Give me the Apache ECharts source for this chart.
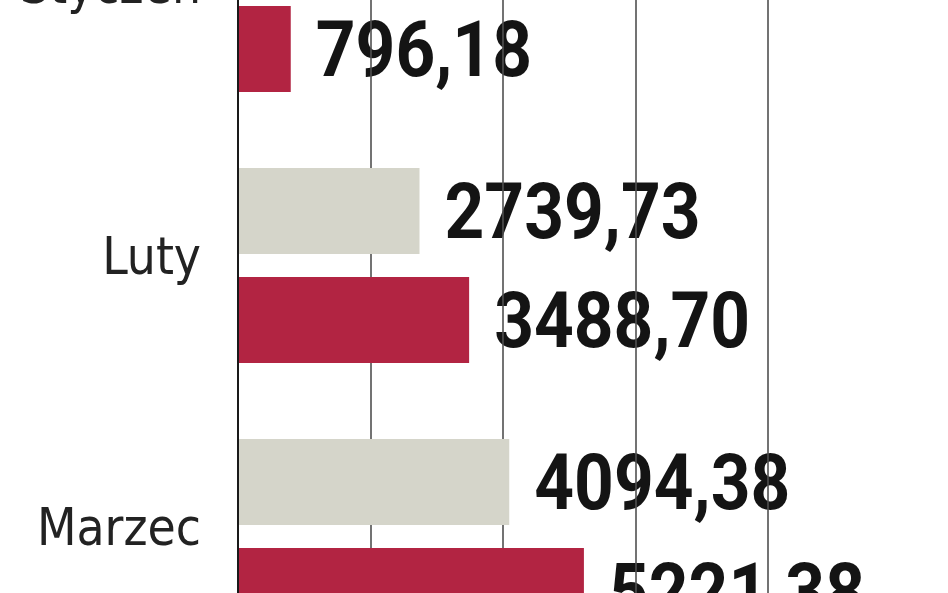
<!DOCTYPE html>
<html>
<head>
<meta charset="utf-8">
<script src="https://cdn.jsdelivr.net/npm/echarts@6/dist/echarts.min.js"></script>
<style>
html,body{margin:0;padding:0;background:#fff;overflow:hidden;width:948px;height:593px;}
#c{position:absolute;left:0;top:-141px;width:948px;height:813px;}
</style>
</head>
<body>
<div id="c"></div>
<script>
var categories = ['Styczeń', 'Luty', 'Marzec'];
var grayValues = [1300.00, 2739.73, 4094.38];
var redValues = [796.18, 3488.70, 5221.38];
var xTicks = [0, 2000, 4000, 6000, 8000];

var chart = echarts.init(document.getElementById('c'));
var VFONT = 'bold 78px Roboto, "DejaVu Sans Condensed", sans-serif';
var CFONT = '"DejaVu Sans Condensed", Roboto, sans-serif';
var BAR_W = 86, GAP = 23;

function fmt(v) { return v.toFixed(2).replace('.', ','); }

function barSeries(name, data, color) {
  return {
    name: name, type: 'bar', data: data,
    barWidth: BAR_W, barGap: (GAP / BAR_W * 100) + '%', z: 2,
    itemStyle: { color: color },
    label: { show: false },
    emphasis: { disabled: true }, silent: true, animation: false
  };
}
function labelSeries(values, shift) {
  return {
    type: 'custom', z: 0, silent: true, animation: false,
    encode: { x: 0, y: 1 },
    data: values.map(function (v, i) { return [v, i]; }),
    renderItem: function (params, api) {
      var pt = api.coord([api.value(0), api.value(1)]);
      return {
        type: 'text',
        x: pt[0] + 25, y: pt[1] + shift * (BAR_W + GAP) / 2 + 7,
        scaleX: 0.89,
        style: { text: fmt(api.value(0)), font: VFONT, fill: '#141414',
                 align: 'left', verticalAlign: 'middle' }
      };
    }
  };
}

chart.setOption({
  animation: false,
  grid: { left: 238, top: 0, width: 530, height: 813, containLabel: false },
  xAxis: {
    type: 'value', min: xTicks[0], max: xTicks[xTicks.length - 1], interval: 2000, z: 1,
    axisLine: { show: false }, axisTick: { show: false }, axisLabel: { show: false },
    splitLine: { show: true, lineStyle: { color: '#505050', width: 1.6 } }
  },
  yAxis: {
    type: 'category', data: categories, inverse: true, z: 3,
    axisLine: { show: true, onZero: false, lineStyle: { color: '#1a1a1a', width: 2 } },
    axisTick: { show: false },
    axisLabel: {
      margin: 37, verticalAlign: 'middle',
      formatter: function (v) { return '{a|' + v + '}'; },
      rich: { a: { fontFamily: CFONT, fontSize: 51, color: '#222', padding: [0, 0, 10, 0] } }
    },
    splitLine: { show: false }
  },
  series: [
    barSeries('gray', grayValues, '#d5d5ca'),
    barSeries('red', redValues, '#b22442'),
    labelSeries(grayValues, -1),
    labelSeries(redValues, 1)
  ]
});
</script>
</body>
</html>
